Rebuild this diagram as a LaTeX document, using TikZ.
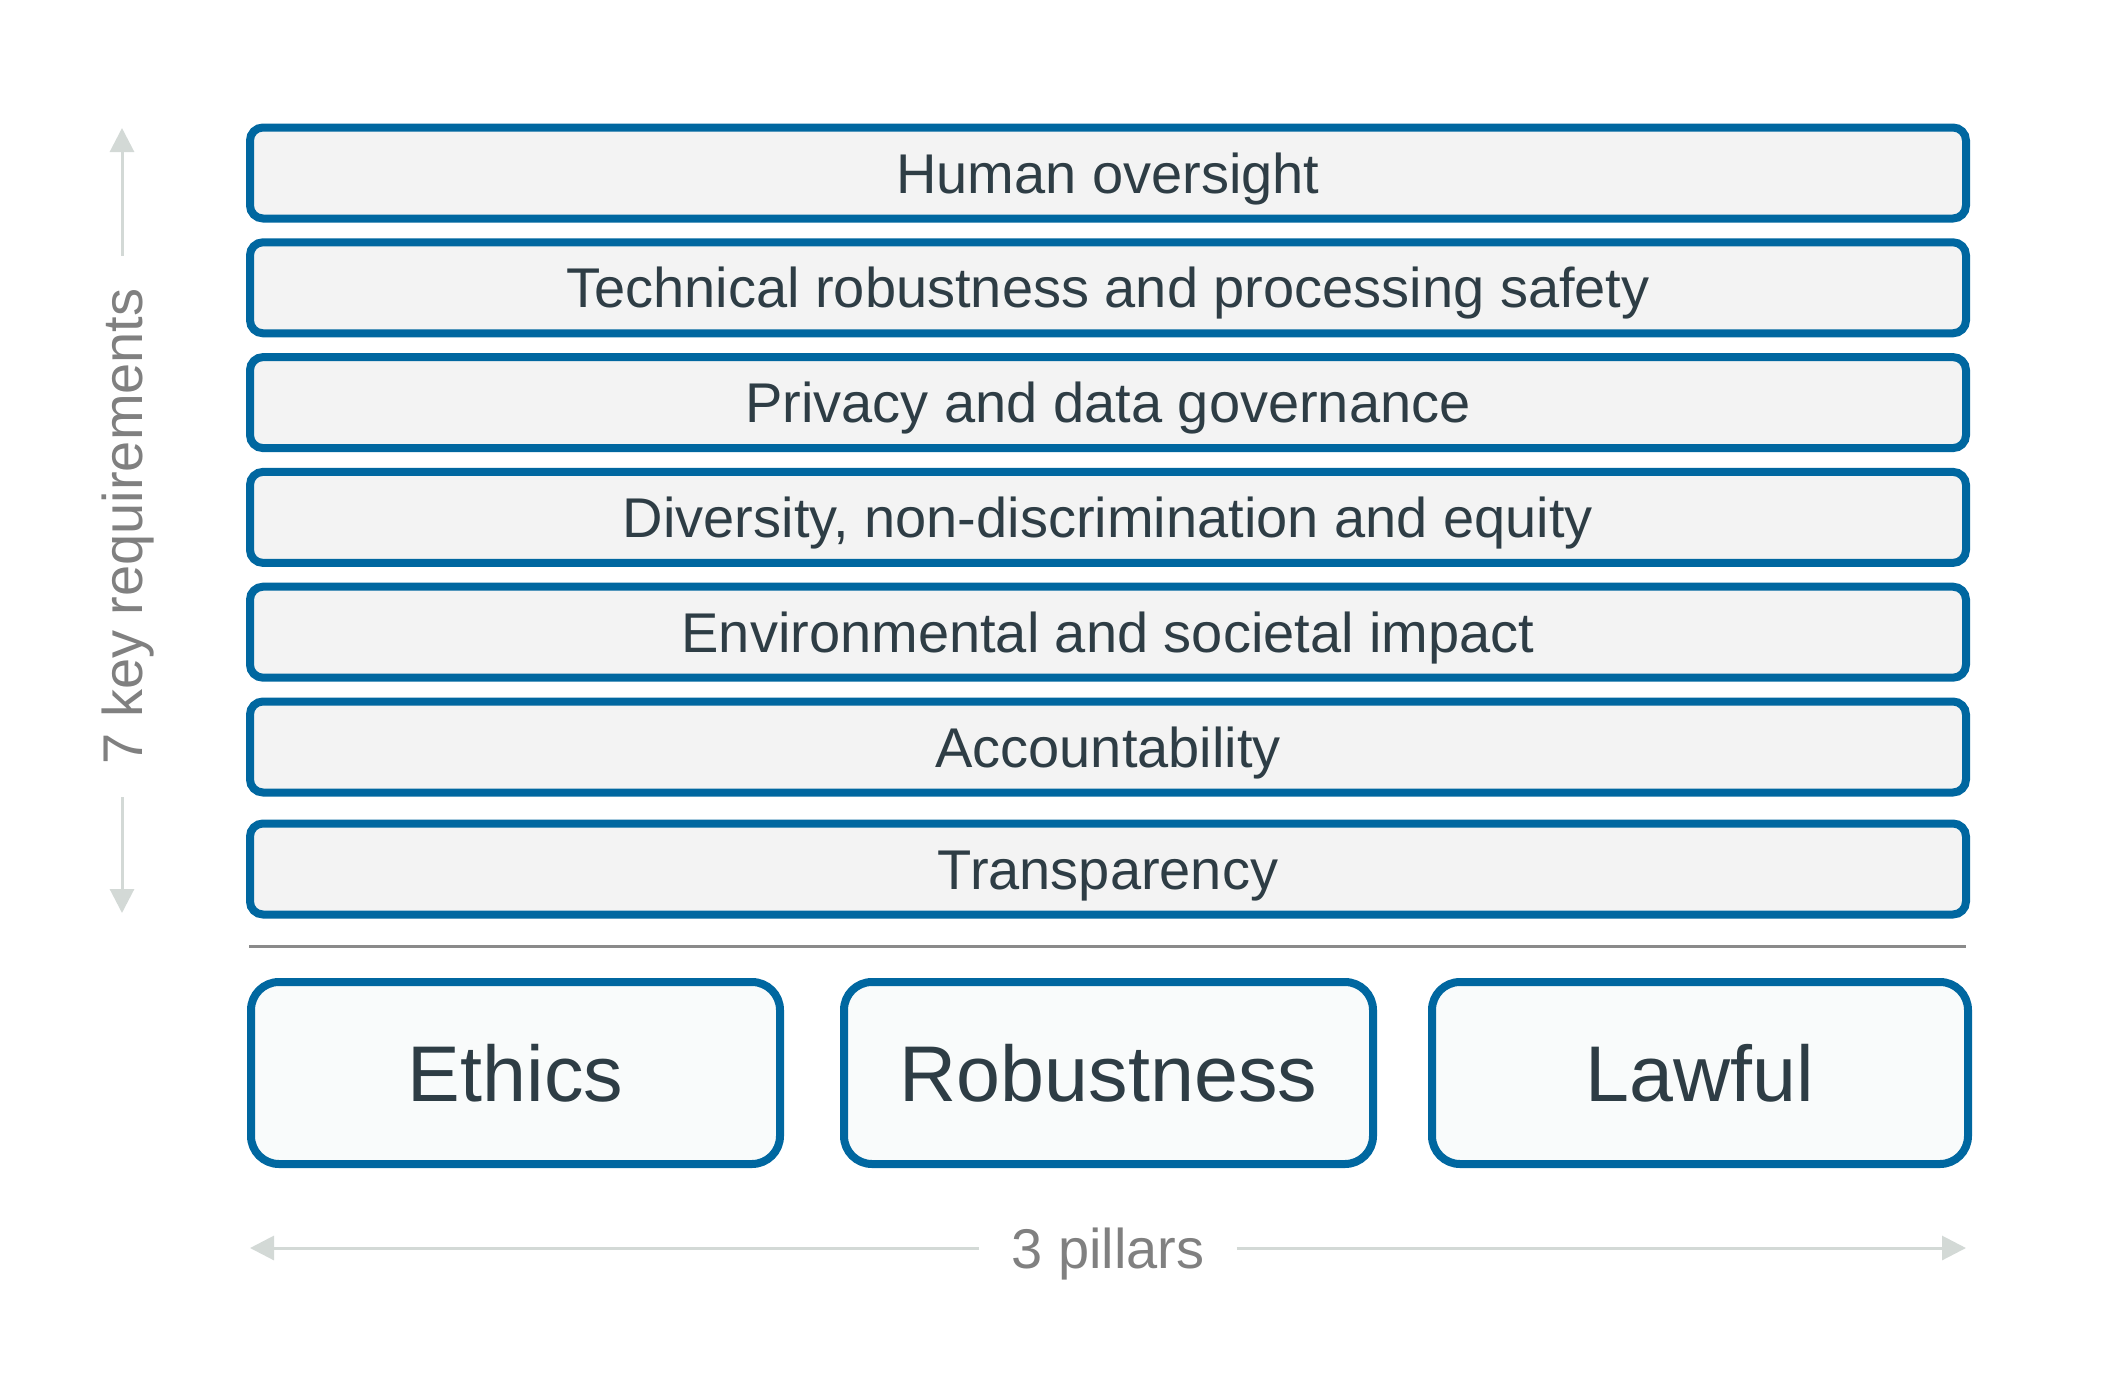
\documentclass[tikz,border=0pt]{standalone}
\usepackage{fontspec}
\setmainfont{Liberation Sans}
\usetikzlibrary{positioning, arrows.meta}
\definecolor{frameblue}{HTML}{0067A0}
\definecolor{reqfill}{HTML}{F3F3F3}
\definecolor{pillarfill}{HTML}{F9FBFB}
\definecolor{inkdark}{HTML}{2E3D45}
\definecolor{guidegray}{HTML}{D3D9D6}
\definecolor{labelgray}{HTML}{808080}
\definecolor{rulegray}{HTML}{8A8A8A}
\tikzset{
requirement/.style={shape=rectangle, rounded corners=6.5pt, draw=frameblue, line width=4pt, fill=reqfill, minimum width=858pt, minimum height=45.5pt, inner sep=0, text=inkdark, font=\fontsize{28}{30}\selectfont, text height=20pt, text depth=0pt},
pillar/.style={shape=rectangle, rounded corners=14pt, draw=frameblue, line width=4pt, fill=pillarfill, minimum width=264.5pt, minimum height=91pt, inner sep=0, text=inkdark, font=\fontsize{39.5}{42}\selectfont, text height=28.3pt, text depth=0pt},
guide/.style={draw=guidegray, line width=1.5pt, -{Triangle[length=12pt, width=12pt]}},
dimlabel/.style={text=labelgray, font=\fontsize{28}{30}\selectfont, text height=20pt, text depth=0pt, inner ysep=0pt, inner xsep=16pt},
rule/.style={draw=rulegray, line width=1.5pt}}

\begin{document}
\begin{tikzpicture}[x=0.5pt, y=-0.5pt]
\useasboundingbox (0,0) rectangle (2106,1372);
\node [requirement] (r1) at (1108,173) {Human oversight};
\node [requirement, below=7.9pt of r1] (r2) {Technical robustness and processing safety};
\node [requirement, below=7.9pt of r2] (r3) {Privacy and data governance};
\node [requirement, below=7.9pt of r3] (r4) {Diversity, non-discrimination and equity};
\node [requirement, below=7.9pt of r4] (r5) {Environmental and societal impact};
\node [requirement, below=7.9pt of r5] (r6) {Accountability};
\node [requirement, below=11.5pt of r6] (r7) {Transparency};
\draw [rule] ([xshift=1.5pt, yshift=-13.75pt]r7.south west) -- ([xshift=-2pt, yshift=-13.75pt]r7.south east);
\node [pillar] (ethics) at (515.5,1073) {Ethics};
\node [pillar, right=28pt of ethics] (robust) {Robustness};
\node [pillar, right=25.5pt of robust, minimum width=268pt] (lawful) {Lawful};
\node [dimlabel, rotate=90] (keyreq) at (122,526.5) {7 key requirements};
\coordinate (keytop) at (122,128);
\coordinate (keybot) at (122,913);
\draw [guide] (keyreq.east) -- (keytop);
\draw [guide] (keyreq.west) -- (keybot);
\node [dimlabel] (pill) at (1108,1248) {3 pillars};
\coordinate (pillleft) at (250,1248);
\coordinate (pillright) at (1966,1248);
\draw [guide] (pill.west) -- (pillleft);
\draw [guide] (pill.east) -- (pillright);
\end{tikzpicture}
\end{document}
